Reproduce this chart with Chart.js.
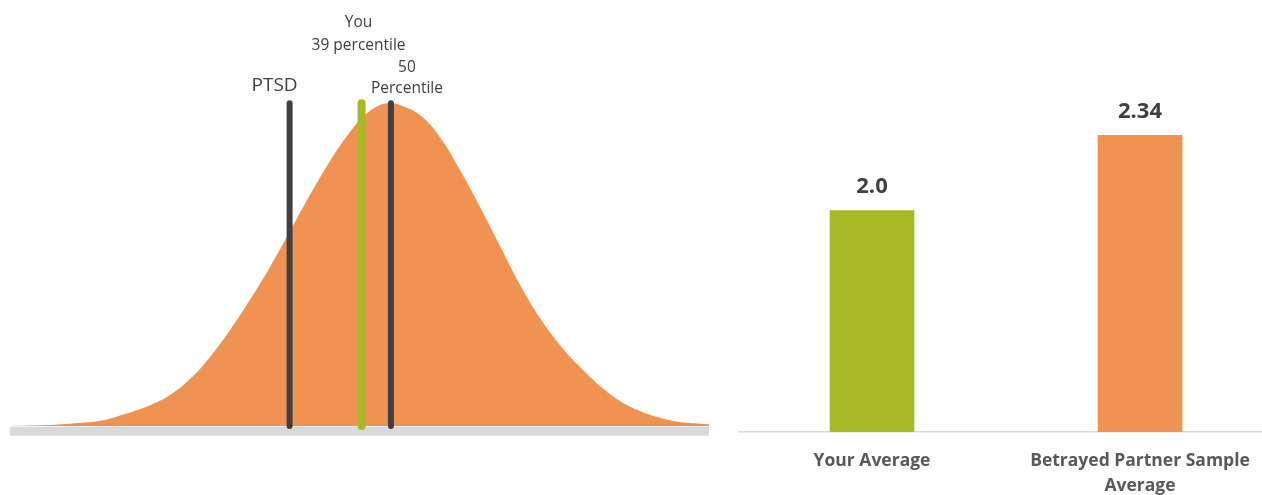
<!DOCTYPE html>
<html>
<head>
<meta charset="utf-8">
<script src="https://cdn.jsdelivr.net/npm/chart.js@4/dist/chart.umd.min.js"></script>
<style>
  html, body { margin: 0; padding: 0; background: #fff; overflow: hidden; }
  body { width: 1262px; height: 495px; position: relative; }
  #curveWrap { position: absolute; left: 0; top: 0; width: 720px; height: 495px; }
  #barWrap { position: absolute; left: 738px; top: 0; width: 536px; height: 495px; }
</style>
</head>
<body>
<div id="curveWrap"><canvas id="curveChart"></canvas></div>
<div id="barWrap"><canvas id="barChart"></canvas></div>
<script>
// distribution curve (x: score 0-100, y: relative height)
const curveX = [0, 4.29, 8.58, 12.88, 15.74, 20.03, 22.89, 25.75, 28.61, 31.47, 34.33, 37.20, 40.06, 42.92, 45.78, 48.64, 50.93, 52.93, 54.36,
  55.79, 58.66, 61.52, 64.38, 67.24, 70.10, 72.96, 75.82, 78.68, 81.55, 84.41, 87.27, 90.13, 92.99, 95.85, 100];
const curveY = [0, 0.002, 0.007, 0.016, 0.032, 0.064, 0.095, 0.144, 0.212, 0.294, 0.387, 0.488, 0.598, 0.709, 0.813, 0.902, 0.957, 0.985, 0.990,
  0.985, 0.954, 0.886, 0.785, 0.672, 0.552, 0.433, 0.331, 0.248, 0.181, 0.123, 0.077, 0.046, 0.025, 0.012, 0.005];

// vertical markers
const markerX = [40.0, 50.3, 54.5];
const markerTop = 0.99;
const markerLabels = [['PTSD'], ['You', '39 percentile'], ['50', 'Percentile']];

// bar chart
const barCategories = [['Your Average'], ['Betrayed Partner Sample', 'Average']];
const barValues = [2.0, 2.34];
const barValueLabels = ['2.0', '2.34'];

const ORANGE = '#f09352';
const GREEN = '#a7b927';
const DARK = '#404040';
const FONT = "'Open Sans', sans-serif";

// label placement relative to each marker line (px)
const markerColors = [DARK, GREEN, DARK];
const markerWidths = [6, 8, 6];
const labelStyle = [
  { dx: -15, ys: [86], size: 19 },
  { dx: -3, ys: [23, 46], size: 15.5 },
  { dx: 16, ys: [68, 89], size: 15.5 }
];

const curveDecor = {
  id: 'curveDecor',
  beforeDatasetsDraw(chart) {
    const { ctx, chartArea } = chart;
    ctx.save();
    ctx.fillStyle = '#d9d9d9';
    ctx.fillRect(chartArea.left, chartArea.bottom + 0.7, chartArea.right - chartArea.left, 9);
    ctx.restore();
  },
  afterDraw(chart) {
    const { ctx } = chart;
    const xs = chart.scales.x;
    ctx.save();
    ctx.textAlign = 'center';
    ctx.textBaseline = 'middle';
    ctx.fillStyle = DARK;
    markerLabels.forEach((lines, i) => {
      const st = labelStyle[i];
      ctx.font = st.size + 'px ' + FONT;
      const px = xs.getPixelForValue(markerX[i]) + st.dx;
      lines.forEach((t, j) => ctx.fillText(t, px, st.ys[j]));
    });
    ctx.restore();
  }
};

const markerSets = markerX.map((x, i) => ({
  type: 'line',
  data: [{ x: x, y: 0 }, { x: x, y: markerTop }],
  borderColor: markerColors[i],
  borderWidth: markerWidths[i],
  borderCapStyle: 'round',
  pointRadius: 0,
  fill: false,
  clip: false,
  order: 0
}));

new Chart(document.getElementById('curveChart'), {
  type: 'line',
  data: {
    datasets: [
      ...markerSets,
      {
        data: curveX.map((x, i) => ({ x: x, y: curveY[i] })),
        borderColor: ORANGE,
        borderWidth: 0,
        backgroundColor: ORANGE,
        fill: 'origin',
        pointRadius: 0,
        tension: 0.4,
        clip: false,
        order: 1
      }
    ]
  },
  options: {
    responsive: true,
    maintainAspectRatio: false,
    animation: false,
    layout: { padding: { left: 10, right: 11, top: 100, bottom: 69 } },
    plugins: { legend: { display: false }, tooltip: { enabled: false } },
    scales: {
      x: { type: 'linear', min: 0, max: 100, display: false },
      y: { min: 0, max: 1, display: false }
    }
  },
  plugins: [curveDecor]
});

const valueLabels = {
  id: 'valueLabels',
  afterDatasetsDraw(chart) {
    const { ctx } = chart;
    const meta = chart.getDatasetMeta(0);
    ctx.save();
    ctx.font = 'bold 22px ' + FONT;
    ctx.fillStyle = DARK;
    ctx.textAlign = 'center';
    ctx.textBaseline = 'middle';
    meta.data.forEach((bar, i) => {
      ctx.fillText(barValueLabels[i], bar.x, bar.y - 24);
    });
    ctx.restore();
  }
};

new Chart(document.getElementById('barChart'), {
  type: 'bar',
  data: {
    labels: barCategories,
    datasets: [{
      data: barValues,
      backgroundColor: [GREEN, ORANGE],
      barThickness: 84
    }]
  },
  options: {
    responsive: true,
    maintainAspectRatio: false,
    animation: false,
    layout: { padding: { left: 0, right: 0, top: 100, bottom: -20 } },
    plugins: { legend: { display: false }, tooltip: { enabled: false } },
    scales: {
      x: {
        grid: { display: false, drawTicks: false },
        border: { color: '#d9d9d9', width: 1.5 },
        ticks: {
          color: '#595959',
          padding: 17,
          font: { family: FONT, size: 17.5, weight: 'bold', lineHeight: 1.4 }
        }
      },
      y: { min: 1, max: 2.5, display: false }
    }
  },
  plugins: [valueLabels]
});
</script>
</body>
</html>
